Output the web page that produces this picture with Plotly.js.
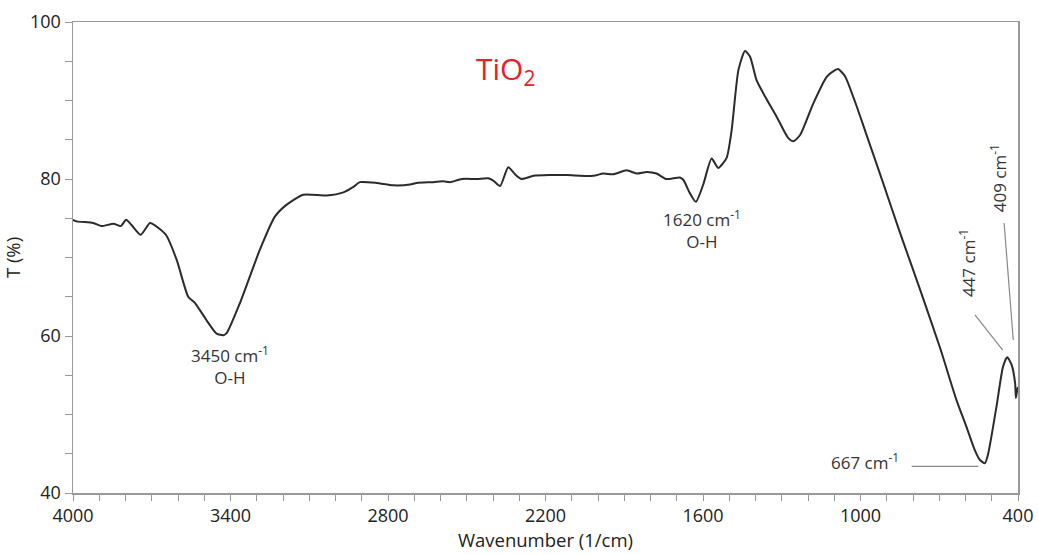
<!DOCTYPE html>
<html>
<head>
<meta charset="utf-8">
<script src="https://cdn.plot.ly/plotly-3.0.1.min.js"></script>
<style>html,body{margin:0;padding:0;background:#fff;}#chart{width:1038px;height:555px;}</style>
</head>
<body>
<div id="chart"></div>
<script>
const wavenumber = [4000, 3986, 3923, 3891, 3846, 3818, 3798, 3776, 3742, 3707, 3688, 3646, 3605, 3561, 3535, 3491, 3453, 3427, 3414, 3364, 3288, 3231, 3187, 3123, 3034, 2970, 2932, 2907, 2843, 2780, 2716, 2691, 2627, 2589, 2564, 2519, 2462, 2418, 2399, 2373, 2342, 2316, 2291, 2246, 2183, 2119, 2018, 1980, 1942, 1891, 1853, 1814, 1777, 1741, 1688, 1675, 1650, 1627, 1599, 1567, 1542, 1510, 1491, 1465, 1440, 1421, 1396, 1370, 1319, 1275, 1256, 1230, 1180, 1129, 1100, 1085, 1059, 1015, 983, 914, 850, 773, 697, 634, 596, 565, 545, 526, 513, 482, 457, 441, 424, 411, 408, 403, 400];
const transmittance = [74.8, 74.6, 74.4, 74.0, 74.3, 74.0, 74.8, 74.1, 72.9, 74.4, 74.1, 72.9, 69.7, 65.0, 64.2, 62.0, 60.3, 60.1, 60.4, 64.2, 71.0, 75.2, 76.7, 78.0, 77.9, 78.3, 79.0, 79.6, 79.5, 79.2, 79.3, 79.5, 79.6, 79.7, 79.6, 80.0, 80.0, 80.1, 79.8, 79.1, 81.5, 80.6, 80.0, 80.4, 80.5, 80.5, 80.4, 80.7, 80.6, 81.1, 80.7, 80.9, 80.7, 80.0, 80.2, 79.9, 78.2, 77.1, 79.3, 82.6, 81.4, 82.7, 86.2, 93.9, 96.3, 95.6, 92.6, 90.9, 87.9, 85.2, 84.8, 85.6, 89.6, 93.0, 93.8, 94.0, 93.1, 89.3, 86.2, 79.5, 73.2, 65.9, 58.5, 51.8, 48.4, 45.5, 44.2, 43.8, 45.1, 51.0, 56.1, 57.3, 56.3, 54.0, 52.1, 53.1, 53.5];

const xTickVals = [4000, 3400, 2800, 2200, 1600, 1000, 400];
const yTickVals = [40, 60, 80, 100];

// annotation labels
const labelTexts = ["3450 cm<sup>-1</sup><br>O-H", "1620 cm<sup>-1</sup><br>O-H", "667 cm<sup>-1</sup>", "447 cm<sup>-1</sup>", "409 cm<sup>-1</sup>"];
const labelX = [3402, 1604, 983, 594, 476];
const labelY = [56.3, 73.6, 44.0, 69.3, 80.1];
const labelAngle = [0, 0, 0, -90, -90];
// leader lines
const leaderX0 = [805, 564, 453];
const leaderY0 = [43.4, 62.7, 74.4];
const leaderX1 = [551, 458, 418];
const leaderY1 = [43.4, 58.2, 59.5];

const fontFam = '"Open Sans", "Noto Sans", sans-serif';

const annotations = labelTexts.map((t, i) => ({
  x: labelX[i], y: labelY[i], xref: 'x', yref: 'y', text: t, showarrow: false,
  textangle: labelAngle[i], font: {family: fontFam, size: 17, color: '#333'}, align: 'center'
}));
annotations.push({x: 2354, y: 93.9, xref: 'x', yref: 'y', text: 'TiO<sub>2</sub>', showarrow: false,
  font: {family: fontFam, size: 30, color: '#e8202a'}});

const shapes = leaderX0.map((x0, i) => ({
  type: 'line', xref: 'x', yref: 'y', x0: x0, y0: leaderY0[i], x1: leaderX1[i], y1: leaderY1[i],
  line: {color: '#888', width: 1.2}
}));

Plotly.newPlot('chart', [{
  x: wavenumber, y: transmittance, type: 'scatter', mode: 'lines',
  line: {color: '#2b2b2b', width: 2, shape: 'spline', smoothing: 0.6}
}], {
  width: 1038, height: 555,
  margin: {l: 73, r: 20, t: 22, b: 62},
  paper_bgcolor: '#fff', plot_bgcolor: '#fff',
  showlegend: false,
  font: {family: fontFam, color: '#222'},
  xaxis: {
    range: [4000, 400], autorange: false,
    tickvals: xTickVals, ticktext: xTickVals.map(String),
    showgrid: false, zeroline: false,
    showline: true, mirror: true, linecolor: '#999', linewidth: 1.5,
    ticks: 'outside', ticklen: 6, tickcolor: '#999',
    minor: {dtick: 100, tick0: 0, ticks: 'outside', ticklen: 6, tickcolor: '#999', showgrid: false},
    tickfont: {family: fontFam, size: 18, color: '#222'},
    title: {text: 'Wavenumber (1/cm)', font: {family: fontFam, size: 18.5, color: '#222'}, standoff: 2}
  },
  yaxis: {
    range: [40, 100], autorange: false,
    tickvals: yTickVals,
    showgrid: false, zeroline: false,
    showline: true, mirror: true, linecolor: '#999', linewidth: 1.5,
    ticks: 'outside', ticklen: 7, tickcolor: '#999',
    minor: {dtick: 5, tick0: 0, ticks: 'outside', ticklen: 7, tickcolor: '#999', showgrid: false},
    tickfont: {family: fontFam, size: 18, color: '#222'},
    title: {text: 'T (%)', font: {family: fontFam, size: 18.5, color: '#222'}, standoff: 8}
  },
  annotations: annotations,
  shapes: shapes
}, {displayModeBar: false, staticPlot: true});
</script>
</body>
</html>
